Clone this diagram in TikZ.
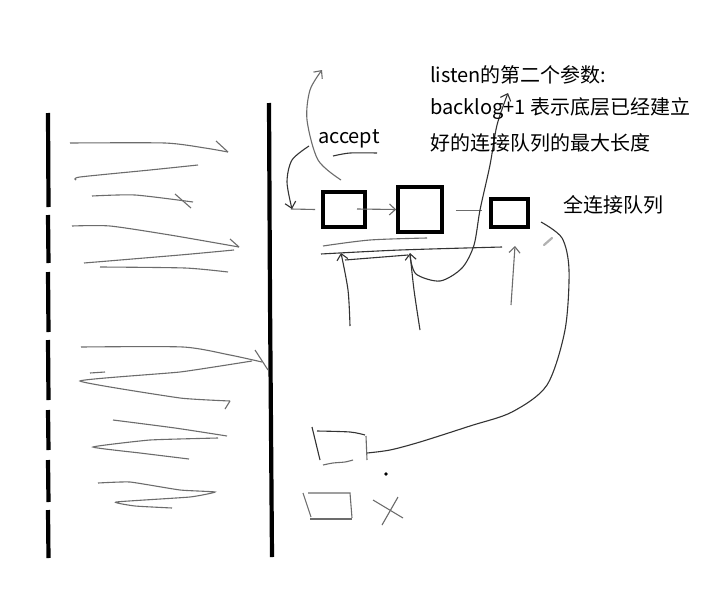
\documentclass[tikz,border=0pt]{standalone}
\usepackage{fontspec}
\setmainfont{Noto Sans CJK SC}
\usetikzlibrary{arrows.meta}
\tikzset{
  wall/.style={line width=4.2pt,black},
  qbox/.style={draw=black,line width=3.6pt,inner sep=0pt},
  stroke/.style={line width=1.1pt,color=gray!85!black},
  dstroke/.style={line width=1.1pt,color=black!80},
  barb/.style={-{Straight Barb[length=6pt,width=11pt]}},
  lbl/.style={font=\fontsize{20}{34}\selectfont,inner sep=0pt,anchor=west,text=black}
}
\begin{document}
\begin{tikzpicture}[x=1pt,y=-1pt]
\useasboundingbox[fill=white] (0,0) rectangle (714,597);
% left dashed wall
\foreach \a/\b in {113/207,215/263,272/332,340/400,410/450,460/502,510/558}
  \draw[wall] (48,\a) -- (48.5,\b);
% right wall
\draw[wall] (269,103) -- (270,300) -- (272,557);
% left region strokes
\draw[stroke] plot[smooth,tension=0.4] coordinates {(70,143) (165,143) (205,148) (228,152)};
\draw[stroke] (216,141) -- (228,152);
\draw[stroke] plot[smooth,tension=0.4] coordinates {(198,165) (150,170) (80,177) (76,180)};
\draw[stroke] plot[smooth,tension=0.4] coordinates {(92,196) (135,195) (193,202)};
\draw[stroke] (175,194) -- (191,208);
\draw[stroke] plot[smooth,tension=0.4] coordinates {(72,226) (110,226) (170,235) (239,247)};
\draw[stroke] (230,239) -- (239,247);
\draw[stroke] plot[smooth,tension=0.4] coordinates {(234,250) (180,255) (84,263)};
\draw[stroke] plot[smooth,tension=0.4] coordinates {(100,267) (185,268) (228,272)};
\draw[stroke] plot[smooth,tension=0.4] coordinates {(81,347) (183,347) (230,355) (262,362)};
\draw[stroke] (255,350) -- (268,370);
\draw[stroke] plot[smooth,tension=0.25] coordinates {(252,361) (180,372) (80,381) (180,398) (230,401)};
\draw[stroke] (230,401) -- (225,409);
\draw[stroke] (90,373) -- (105,372);
\draw[stroke] plot[smooth,tension=0.4] coordinates {(113,420) (175,428) (227,436)};
\draw[stroke] plot[smooth,tension=0.25] coordinates {(218,438) (150,440) (93,447) (140,453) (189,459)};
\draw[stroke] plot[smooth,tension=0.25] coordinates {(98,483) (130,482) (180,490) (215,492) (190,497) (116,502) (135,506) (172,508)};
% queue boxes
\node[qbox,minimum width=42pt,minimum height=35pt] (qa) at (344,209.5) {};
\node[qbox,minimum width=44pt,minimum height=45pt] (qb) at (420,209.5) {};
\node[qbox,minimum width=37pt,minimum height=28pt] (qc) at (509.5,213) {};
\coordinate (qaout) at (291,209);
\draw[stroke,barb] (357,209) -- (qb.west);
\draw[stroke] (qb.east) ++(12,1) -- ++(26,0);
\draw[stroke] (qa.west) ++(-6,0) -- (qaout);
% accept
\node[lbl] (acc) at (318,139) {accept};
\draw[dstroke] plot[smooth] coordinates {(333,156) (350,153) (377,153)};
\draw[dstroke,barb] plot[smooth] coordinates {(309,146) (292,160) (287,182) (292,209)};
\draw[stroke,barb] plot[smooth] coordinates {(341,180) (318,160) (307,120) (310,90) (322,70)};
% lines under boxes
\draw[stroke] plot[smooth] coordinates {(323,246) (370,240) (427,238)};
\draw[dstroke] plot[smooth] coordinates {(321,254) (400,250) (502,247)};
\draw[dstroke] (345,260) -- (408,255);
\draw[dstroke,barb] plot[smooth] coordinates {(350,326) (348,290) (341,253)};
\draw[dstroke,barb] plot[smooth] coordinates {(420,330) (414,290) (410,253)};
\draw[stroke,barb] (511,305) -- (515,246);
% backlog curve
\draw[dstroke,barb] plot[smooth] coordinates {(410,256) (416,274) (440,281) (462,268) (474,245) (480,210) (490,165) (497,125) (508,93)};
% right curve to bottom box
\draw[dstroke] plot[smooth] coordinates {(541,222) (562,238) (569,270) (565,330) (547,385) (512,412) (470,426) (420,442) (390,450) (367,453)};
\draw[line width=2.2pt,gray!60,line cap=round] (544,245) -- (552,238);
% bottom sketch boxes
\draw[dstroke] (312,427) -- (320,460);
\draw[dstroke] plot[smooth] coordinates {(317,431) (350,432) (365,435)};
\draw[stroke] (366,436) -- (367,460);
\draw[stroke] plot[smooth] coordinates {(323,465) (333,463) (345,462) (353,460)};
\fill[black] (386,474) circle (1.8pt);
\draw[stroke] (303,493) -- (311,517);
\draw[stroke] (308,493) -- (350,493) -- (352,518);
\draw[stroke] (310,519) -- (352,519);
\draw[stroke] (373,500) -- (403,518);
\draw[stroke] (398,497) -- (382,525);
% texts
\node[lbl] (t1) at (430,75) {listen的第二个参数:};
\node[lbl] (t2) at (430,109) {backlog+1 表示底层已经建立};
\node[lbl] (t3) at (430,143) {好的连接队列的最大长度};
\node[lbl] (full) at (563,205) {全连接队列};
\end{tikzpicture}
\end{document}
